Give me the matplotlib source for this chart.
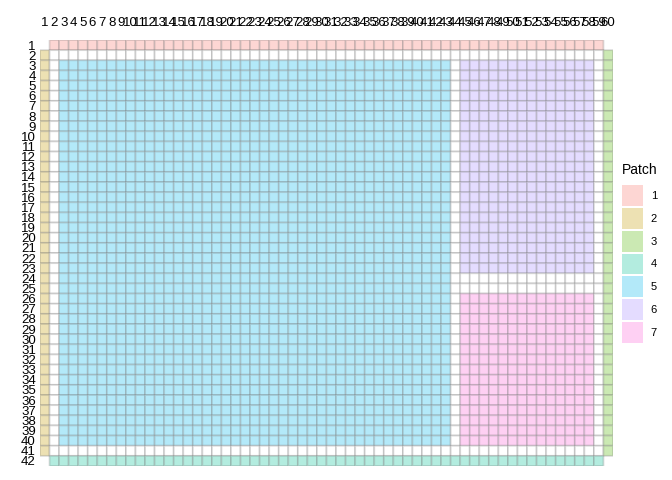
import numpy as np
import matplotlib
matplotlib.use("Agg")
import matplotlib.pyplot as plt
from matplotlib.colors import ListedColormap, to_rgb
from matplotlib.patches import Patch

plt.rcParams['font.family'] = ['Liberation Sans', 'DejaVu Sans']

# grid size (rows x columns)
n_rows = 42
n_cols = 60

# patches: id, first/last row, first/last column (1-based, inclusive)
patch_ids = [1, 2, 3, 4, 5, 6, 7]
row_start = [1, 2, 2, 42, 3, 3, 26]
row_end = [1, 41, 41, 42, 40, 23, 40]
col_start = [2, 1, 60, 2, 3, 45, 45]
col_end = [59, 1, 60, 59, 43, 58, 58]

# empty tiles (no patch) cover the inner block
empty_rows = (2, 41)
empty_cols = (2, 59)

patch_hues = ["#F8766D", "#C49A00", "#53B400", "#00C094", "#00B6EB", "#A58AFF", "#FB61D7"]
alpha = 0.3

#colores mezclados con blanco (como alpha sobre fondo blanco)
fills = [tuple(c * alpha + (1 - alpha) for c in to_rgb(h)) for h in patch_hues]

grid = np.full((n_rows, n_cols), np.nan)
grid[empty_rows[0] - 1:empty_rows[1], empty_cols[0] - 1:empty_cols[1]] = 0
for i in range(len(patch_ids)):
    grid[row_start[i] - 1:row_end[i], col_start[i] - 1:col_end[i]] = patch_ids[i]
grid = np.ma.masked_invalid(grid)

cmap = ListedColormap([(1, 1, 1)] + fills)

fig = plt.figure(figsize=(6.72, 4.8), dpi=100)
ax = fig.add_axes([40 / 672, 14 / 480, 573 / 672, 426 / 480])

x_edges = np.arange(0.5, n_cols + 1)
y_edges = np.arange(0.5, n_rows + 1)
# pcolor deja fuera las celdas enmascaradas (esquinas sin baldosa)
ax.pcolor(x_edges, y_edges, grid, cmap=cmap, vmin=-0.5, vmax=7.5,
          edgecolors=(0.45, 0.45, 0.45, 0.26), linewidth=1.3)

ax.set_xlim(0.5, n_cols + 0.5)
ax.set_ylim(n_rows + 0.5, 0.5)
ax.xaxis.tick_top()
ax.set_xticks(range(1, n_cols + 1))
ax.set_xticklabels([str(i) for i in range(1, n_cols + 1)], fontsize=9.5)
ax.set_yticks(range(1, n_rows + 1))
ax.set_yticklabels([str(i) for i in range(1, n_rows + 1)], fontsize=9.5)
ax.tick_params(axis='x', length=0, pad=8)
ax.tick_params(axis='y', length=0, pad=3)
for s in ax.spines.values():
    s.set_visible(False)

handles = [Patch(facecolor=fills[i], edgecolor='none') for i in range(len(patch_ids))]
leg = fig.legend(handles, [str(p) for p in patch_ids], title="Patch",
                 loc='upper left', bbox_to_anchor=(613 / 672, 1 - 154 / 480),
                 frameon=False, fontsize=8, title_fontsize=10,
                 handlelength=1.9, handleheight=2.5, labelspacing=0.18,
                 handletextpad=0.7, borderpad=0.3)
leg._legend_box.align = "left"
leg._legend_box.sep = 6

fig.savefig("out.png", dpi=100)
